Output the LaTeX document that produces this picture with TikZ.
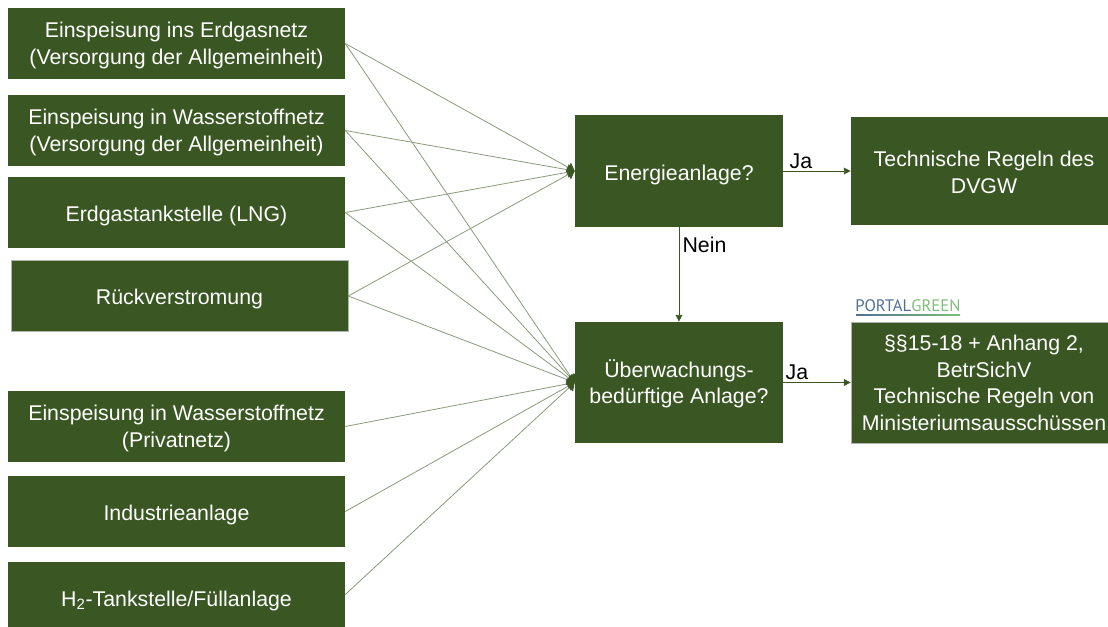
\documentclass[tikz,border=0pt]{standalone}
\usepackage{fontspec}
\setmainfont{Liberation Sans}
\newfontfamily\logofont{PT Sans}
\usetikzlibrary{arrows.meta}
\definecolor{boxgreen}{HTML}{3A5723}
\definecolor{thinline}{HTML}{8A9A7C}
\definecolor{logoblue}{HTML}{4F7196}
\definecolor{logogreen}{HTML}{7DBE78}
\newcommand\ls{\hspace*{6.8pt}}
\newcommand\up[1]{\rule{0pt}{#1}}
\tikzset{
  box/.style={fill=boxgreen,text=white,align=center,inner sep=0pt,font=\fontsize{16}{20}\selectfont},
  wide/.style={box,minimum width=252.75pt,minimum height=53.25pt},
  feed/.style={draw=thinline,line width=0.6pt,-{Triangle[length=5.5pt,width=8pt,color=boxgreen,fill=boxgreen]}},
  flow/.style={draw=boxgreen,line width=0.6pt,-{Triangle[length=5pt,width=5pt]}},
  lab/.style={inner sep=0pt,font=\fontsize{16}{18}\selectfont,text=black}
}
\begin{document}
\begin{tikzpicture}[x=0.75pt,y=-0.75pt]
\useasboundingbox (0,0) rectangle (1108,627);
\node[wide] (a) at (176.5,43.5) {\up{15pt}Einspeisung ins Erdgasnetz\\(Versorgung der Allgemeinheit)};
\node[wide] (b) at (176.5,130.5) {\up{15pt}Einspeisung in Wasserstoffnetz\\(Versorgung der Allgemeinheit)};
\node[wide] (c) at (176.5,212.5) {\up{17pt}Erdgastankstelle (LNG)};
\node[wide,draw=gray!60,line width=0.3pt] (d) at (179.5,296) {\up{16.5pt}Rückverstromung};
\node[wide] (e) at (176.5,426.5) {\up{15pt}Einspeisung in Wasserstoffnetz\\(Privatnetz)};
\node[wide] (f) at (176.5,511.5) {\up{16.5pt}Industrieanlage};
\node[wide,minimum height=49.5pt] (g) at (176.5,594.5) {\up{21pt}H\textsubscript{2}-Tankstelle/Füllanlage};
\node[box,minimum width=156pt,minimum height=84pt] (en) at (679,171) {\up{17pt}Energieanlage?};
\node[box,minimum width=156pt,minimum height=91pt] (ue) at (679,382.5) {\up{15.5pt}Überwachungs-\\bedürftige Anlage?};
\node[box,minimum width=193pt,minimum height=81pt] (dv) at (979.5,171) {\up{14pt}\ls Technische Regeln des\\\ls DVGW};
\node[box,draw=gray!60,line width=0.3pt,minimum width=193pt,minimum height=91pt] (pg) at (979.5,382.5) {\up{12pt}\ls §§15-18 + Anhang 2,\\\ls BetrSichV\\\ls Technische Regeln von\\\ls Ministeriumsausschüssen};
\foreach \s in {a,b,c,d} {
  \draw[feed] (\s.east) -- (en.west);
}
\foreach \s in {a,b,c,d,e,f,g} {
  \draw[feed] (\s.east) -- (ue.west);
}
\draw[flow] (en.east) -- (dv.west);
\draw[flow] (ue.east) -- (pg.west);
\draw[flow] (en.south) -- (ue.north);
\node[lab] (ja1) at (801,161.5) {Ja};
\node[lab] (ja2) at (797,372) {Ja};
\node[lab] (nein) at (704.5,244.5) {Nein};
\node[inner sep=0pt,font=\logofont\fontsize{12.5}{14}\selectfont] (logo) at (908,306) {\textcolor{logoblue}{PORTAL}\textcolor{logogreen}{GREEN}};
\coordinate (logol) at (856,314.6);
\coordinate (logor) at (960,315.4);
\shade[left color=logoblue,right color=logogreen] (logol) rectangle (logor);
\end{tikzpicture}
\end{document}
